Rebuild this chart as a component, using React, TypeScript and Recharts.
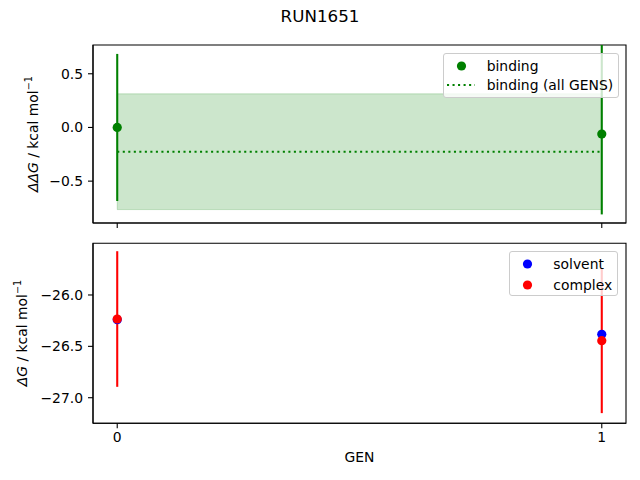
import React from "react";
import {
  ComposedChart,
  Scatter,
  ErrorBar,
  XAxis,
  YAxis,
  ReferenceArea,
  ReferenceLine,
  Legend,
} from "recharts";

// GEN axis
const gens = [0, 1];
const genDomain = [-0.05, 1.05];

// top panel: binding free energy difference
const bindingValues = [0.0, -0.062];
const bindingErrLow = [0.685, 0.748];
const bindingErrHigh = [0.685, 0.83];
const allGensMean = -0.226;
const allGensError = 0.539;
const topTicks = [-0.5, 0, 0.5];
const topDomain = [-0.89, 0.768];

// bottom panel: solvent / complex
const solventValues = [-26.24, -26.383];
const complexValues = [-26.234, -26.445];
const complexErrors = [0.66, 0.705];
const bottomTicks = [-27, -26.5, -26];
const bottomDomain = [-27.249, -25.497];

const FONT = "'DejaVu Sans', sans-serif";
const FS = 13.9;
const R = 4.6;

const bindingData = gens.map((g, i) => ({
  gen: g,
  value: bindingValues[i],
  error: [bindingErrLow[i], bindingErrHigh[i]],
}));
const solventData = gens.map((g, i) => ({ gen: g, value: solventValues[i] }));
const complexData = gens.map((g, i) => ({ gen: g, value: complexValues[i], error: complexErrors[i] }));

const fmt = (v: number) => v.toFixed(1).replace("-", "\u2212");

const dot = (color: string) => (props: any) =>
  <circle cx={props.cx} cy={props.cy} r={R} fill={color} />;

function YLabel({ px, py, prefix }: any) {
  return (
    <text
      x={px}
      y={py}
      transform={`rotate(-90 ${px} ${py})`}
      textAnchor="middle"
      dominantBaseline="central"
      fontSize={FS}
      fontFamily={FONT}
      fill="#000"
    >
      <tspan fontStyle="italic">{prefix}</tspan>
      <tspan> / kcal mol</tspan>
      <tspan dy={-5} fontSize={9.7}>{"\u22121"}</tspan>
    </text>
  );
}

function XLabel() {
  return (
    <text x={359.5} y={232} textAnchor="middle" fontSize={FS} fontFamily={FONT} fill="#000">
      GEN
    </text>
  );
}

type Item = { label: string; color: string; kind: "dot" | "dotted" };

function LegendBox({ items, width, rows }: { items: Item[]; width: number; rows: number[] }) {
  return (
    <div
      style={{
        position: "relative",
        width,
        height: 45,
        boxSizing: "border-box",
        background: "rgba(255,255,255,0.8)",
        border: "1px solid #cccccc",
        borderRadius: 3,
        fontFamily: FONT,
        fontSize: FS,
        color: "#000",
      }}
    >
      {items.map((it, i) => (
        <div key={it.label} style={{ position: "absolute", left: 0, top: rows[i] - 9, height: 18, width: "100%" }}>
          <svg width={40} height={18} style={{ position: "absolute", left: 0, top: 0 }}>
            {it.kind === "dot" ? (
              <circle cx={17.5} cy={9} r={R} fill={it.color} />
            ) : (
              <line x1={3} x2={31} y1={9} y2={9} stroke={it.color} strokeWidth={2.08} strokeDasharray="2.08 3.44" />
            )}
          </svg>
          <span style={{ position: "absolute", left: 43, top: 0, lineHeight: "18px", whiteSpace: "nowrap" }}>
            {it.label}
          </span>
        </div>
      ))}
    </div>
  );
}

const axisLine = { stroke: "#000", strokeWidth: 1.1 };
const tickLine = { stroke: "#000", strokeWidth: 1.1 };
const tickStyle = { fill: "#000", fontSize: FS, fontFamily: FONT };

function TopPanel() {
  return (
    <ComposedChart width={640} height={240} margin={{ top: 45, right: 14, bottom: 0, left: 0 }}>
      <XAxis
        dataKey="gen"
        type="number"
        domain={genDomain}
        ticks={gens}
        allowDataOverflow
        height={17}
        tickSize={5}
        tickFormatter={() => ""}
        axisLine={axisLine}
        tickLine={tickLine}
      />
      <YAxis
        type="number"
        domain={topDomain}
        ticks={topTicks}
        allowDataOverflow
        width={93}
        tickSize={5}
        tickMargin={5}
        tickFormatter={fmt}
        tick={tickStyle}
        axisLine={axisLine}
        tickLine={tickLine}
        label={<YLabel px={33} py={134} prefix={"\u0394\u0394G"} />}
      />
      <ReferenceArea
        x1={gens[0]}
        x2={gens[gens.length - 1]}
        y1={allGensMean - allGensError}
        y2={allGensMean + allGensError}
        fill="green"
        fillOpacity={0.2}
        stroke="green"
        strokeOpacity={0.2}
        strokeWidth={1}
        ifOverflow="visible"
      />
      <ReferenceLine
        segment={[
          { x: gens[0], y: allGensMean },
          { x: gens[gens.length - 1], y: allGensMean },
        ]}
        stroke="green"
        strokeWidth={2.08}
        strokeDasharray="2.08 3.44"
        ifOverflow="visible"
      />
      <Scatter data={bindingData} dataKey="value" fill="green" shape={dot("green")} isAnimationActive={false}>
        <ErrorBar dataKey="error" direction="y" width={0} stroke="green" strokeWidth={2.08} isAnimationActive={false} />
      </Scatter>
      <ReferenceArea
        x1={genDomain[0]}
        x2={genDomain[1]}
        y1={topDomain[0]}
        y2={topDomain[1]}
        fill="none"
        stroke="#000"
        strokeWidth={1.1}
        ifOverflow="visible"
      />
      <Legend
        layout="vertical"
        align="center"
        verticalAlign="middle"
        wrapperStyle={{ left: 442.7, top: 52.7, width: 176, height: 45, zIndex: 2 }}
        content={() => (
          <LegendBox
            width={176}
            rows={[12.3, 31.6]}
            items={[
              { label: "binding", color: "green", kind: "dot" },
              { label: "binding (all GENS)", color: "green", kind: "dotted" },
            ]}
          />
        )}
      />
    </ComposedChart>
  );
}

function BottomPanel() {
  return (
    <ComposedChart width={640} height={250} margin={{ top: 13.3, right: 14, bottom: 0, left: 0 }}>
      <XAxis
        dataKey="gen"
        type="number"
        domain={genDomain}
        ticks={gens}
        allowDataOverflow
        height={56.7}
        tickSize={5}
        tickMargin={4}
        tick={tickStyle}
        axisLine={axisLine}
        tickLine={tickLine}
        label={<XLabel />}
      />
      <YAxis
        type="number"
        domain={bottomDomain}
        ticks={bottomTicks}
        allowDataOverflow
        width={93}
        tickSize={5}
        tickMargin={5}
        tickFormatter={fmt}
        tick={tickStyle}
        axisLine={axisLine}
        tickLine={tickLine}
        label={<YLabel px={22} py={103} prefix={"\u0394G"} />}
      />
      <Scatter data={solventData} dataKey="value" fill="blue" shape={dot("blue")} isAnimationActive={false} />
      <Scatter data={complexData} dataKey="value" fill="red" shape={dot("red")} isAnimationActive={false}>
        <ErrorBar dataKey="error" direction="y" width={0} stroke="red" strokeWidth={2.08} isAnimationActive={false} />
      </Scatter>
      <ReferenceArea
        x1={genDomain[0]}
        x2={genDomain[1]}
        y1={bottomDomain[0]}
        y2={bottomDomain[1]}
        fill="none"
        stroke="#000"
        strokeWidth={1.1}
        ifOverflow="visible"
      />
      <Legend
        layout="vertical"
        align="center"
        verticalAlign="middle"
        wrapperStyle={{ left: 509.3, top: 20.7, width: 109, height: 45, zIndex: 2 }}
        content={() => (
          <LegendBox
            width={109}
            rows={[12.6, 33.6]}
            items={[
              { label: "solvent", color: "blue", kind: "dot" },
              { label: "complex", color: "red", kind: "dot" },
            ]}
          />
        )}
      />
    </ComposedChart>
  );
}

export default function App() {
  return (
    <div style={{ position: "absolute", left: 0, top: 0, width: 640, height: 480, background: "#fff", overflow: "hidden" }}>
      <div
        style={{
          position: "absolute",
          left: 0,
          top: 6,
          width: 640,
          textAlign: "center",
          fontFamily: FONT,
          fontSize: 16.7,
          lineHeight: "20px",
          color: "#000",
        }}
      >
        RUN1651
      </div>
      <div style={{ position: "absolute", left: 0, top: 0 }}>
        <TopPanel />
      </div>
      <div style={{ position: "absolute", left: 0, top: 230 }}>
        <BottomPanel />
      </div>
    </div>
  );
}
